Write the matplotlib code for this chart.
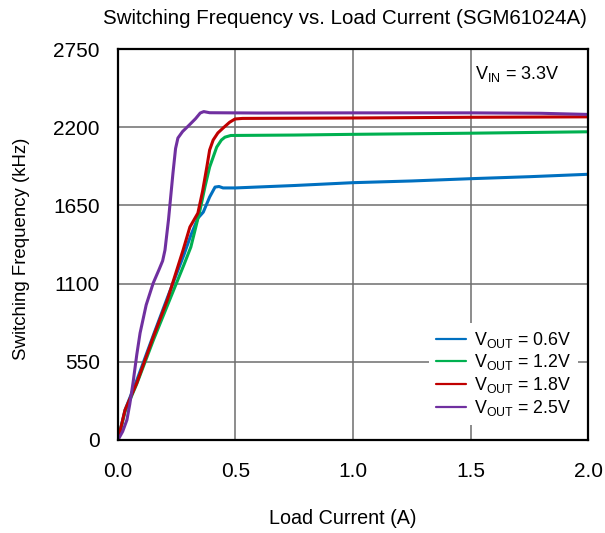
import numpy as np
import matplotlib.pyplot as plt

plt.rcParams["font.family"] = ["Liberation Sans", "DejaVu Sans"]
plt.rcParams["mathtext.fontset"] = "custom"
plt.rcParams["mathtext.rm"] = "Liberation Sans"

# Load current (A) and switching frequency (kHz)
i_06 = [0.0, 0.03, 0.08, 0.15, 0.21, 0.28, 0.31, 0.34, 0.363, 0.39, 0.413, 0.43, 0.447, 0.5,
        0.75, 1.0, 1.25, 1.5, 1.75, 2.0]
f_06 = [0, 211, 420, 735, 1000, 1300, 1440, 1560, 1603, 1709, 1779, 1783, 1773, 1773,
        1790, 1810, 1822, 1838, 1852, 1869]

i_12 = [0.0, 0.03, 0.08, 0.15, 0.21, 0.28, 0.31, 0.349, 0.37, 0.39, 0.42, 0.44, 0.455, 0.48,
        0.75, 1.0, 1.5, 2.0]
f_12 = [0, 200, 395, 700, 945, 1230, 1357, 1617, 1780, 1920, 2060, 2110, 2130, 2142,
        2145, 2150, 2158, 2168]

i_18 = [0.0, 0.03, 0.08, 0.15, 0.21, 0.277, 0.306, 0.34, 0.36, 0.378, 0.39, 0.405, 0.425,
        0.447, 0.475, 0.498, 0.53, 1.0, 1.5, 2.0]
f_18 = [0, 211, 401, 724, 985, 1336, 1498, 1596, 1750, 1920, 2040, 2110, 2160,
        2194, 2235, 2258, 2262, 2265, 2270, 2273]

i_25 = [0.0, 0.02, 0.038, 0.05, 0.064, 0.08, 0.094, 0.12, 0.15, 0.175, 0.19, 0.2, 0.215,
        0.234, 0.245, 0.255, 0.275, 0.3, 0.33, 0.35, 0.365, 0.39, 0.6, 1.0, 1.5, 1.8, 2.0]
f_25 = [0, 60, 141, 250, 401, 600, 752, 950, 1104, 1200, 1260, 1336, 1550,
        1878, 2050, 2124, 2170, 2210, 2260, 2300, 2310, 2302, 2300, 2301, 2301, 2298, 2290]

series = [
    (i_06, f_06, "#0070C0", r"V$_{\mathregular{OUT}}$ = 0.6V"),
    (i_12, f_12, "#00B050", r"V$_{\mathregular{OUT}}$ = 1.2V"),
    (i_18, f_18, "#C00000", r"V$_{\mathregular{OUT}}$ = 1.8V"),
    (i_25, f_25, "#7030A0", r"V$_{\mathregular{OUT}}$ = 2.5V"),
]

fig = plt.figure(figsize=(6.05, 5.33), dpi=100)
ax = fig.add_axes([0.195, 0.1745, 0.777, 0.7335])

for x, y, c, lab in series:
    ax.plot(x, y, color=c, lw=2.2, label=lab, solid_capstyle="round", solid_joinstyle="round")

ax.set_xlim(0, 2.0)
ax.set_ylim(0, 2750)
ax.set_xticks([0.0, 0.5, 1.0, 1.5, 2.0])
ax.set_yticks([0, 550, 1100, 1650, 2200, 2750])
ax.set_xticklabels(["0.0", "0.5", "1.0", "1.5", "2.0"])
ax.tick_params(length=0)
ax.tick_params(axis="x", labelsize=15, pad=16)
ax.tick_params(axis="y", labelsize=15, pad=13)
ax.grid(True, color="#6e6e6e", lw=1.1)
ax.set_axisbelow(True)
for s in ax.spines.values():
    s.set_linewidth(1.6)
    s.set_color("black")

ax.set_xlabel("Load Current (A)", fontsize=14.2, va="center")
ax.xaxis.set_label_coords(0.479, -0.202)
ax.set_ylabel("Switching Frequency (kHz)", fontsize=13.4, va="center")
ax.yaxis.set_label_coords(-0.206, 0.49)
ax.set_title("Switching Frequency vs. Load Current (SGM61024A)", fontsize=14.8, pad=18, x=0.483)

ax.text(0.76, 0.935, r"V$_{\mathregular{IN}}$ = 3.3V", transform=ax.transAxes,
        fontsize=13, ha="left", va="center",
        bbox=dict(facecolor="white", edgecolor="none", pad=2))

leg = ax.legend(loc="lower right", fontsize=12.8, frameon=True, fancybox=False,
                handlelength=1.7, handletextpad=0.4, labelspacing=0.15,
                borderaxespad=0.3, bbox_to_anchor=(0.99, 0.025))
leg.get_frame().set_edgecolor("none")
leg.get_frame().set_facecolor("white")
leg.get_frame().set_alpha(1.0)
for h in leg.get_lines():
    h.set_linewidth(1.6)

plt.savefig("out.png", dpi=100)
